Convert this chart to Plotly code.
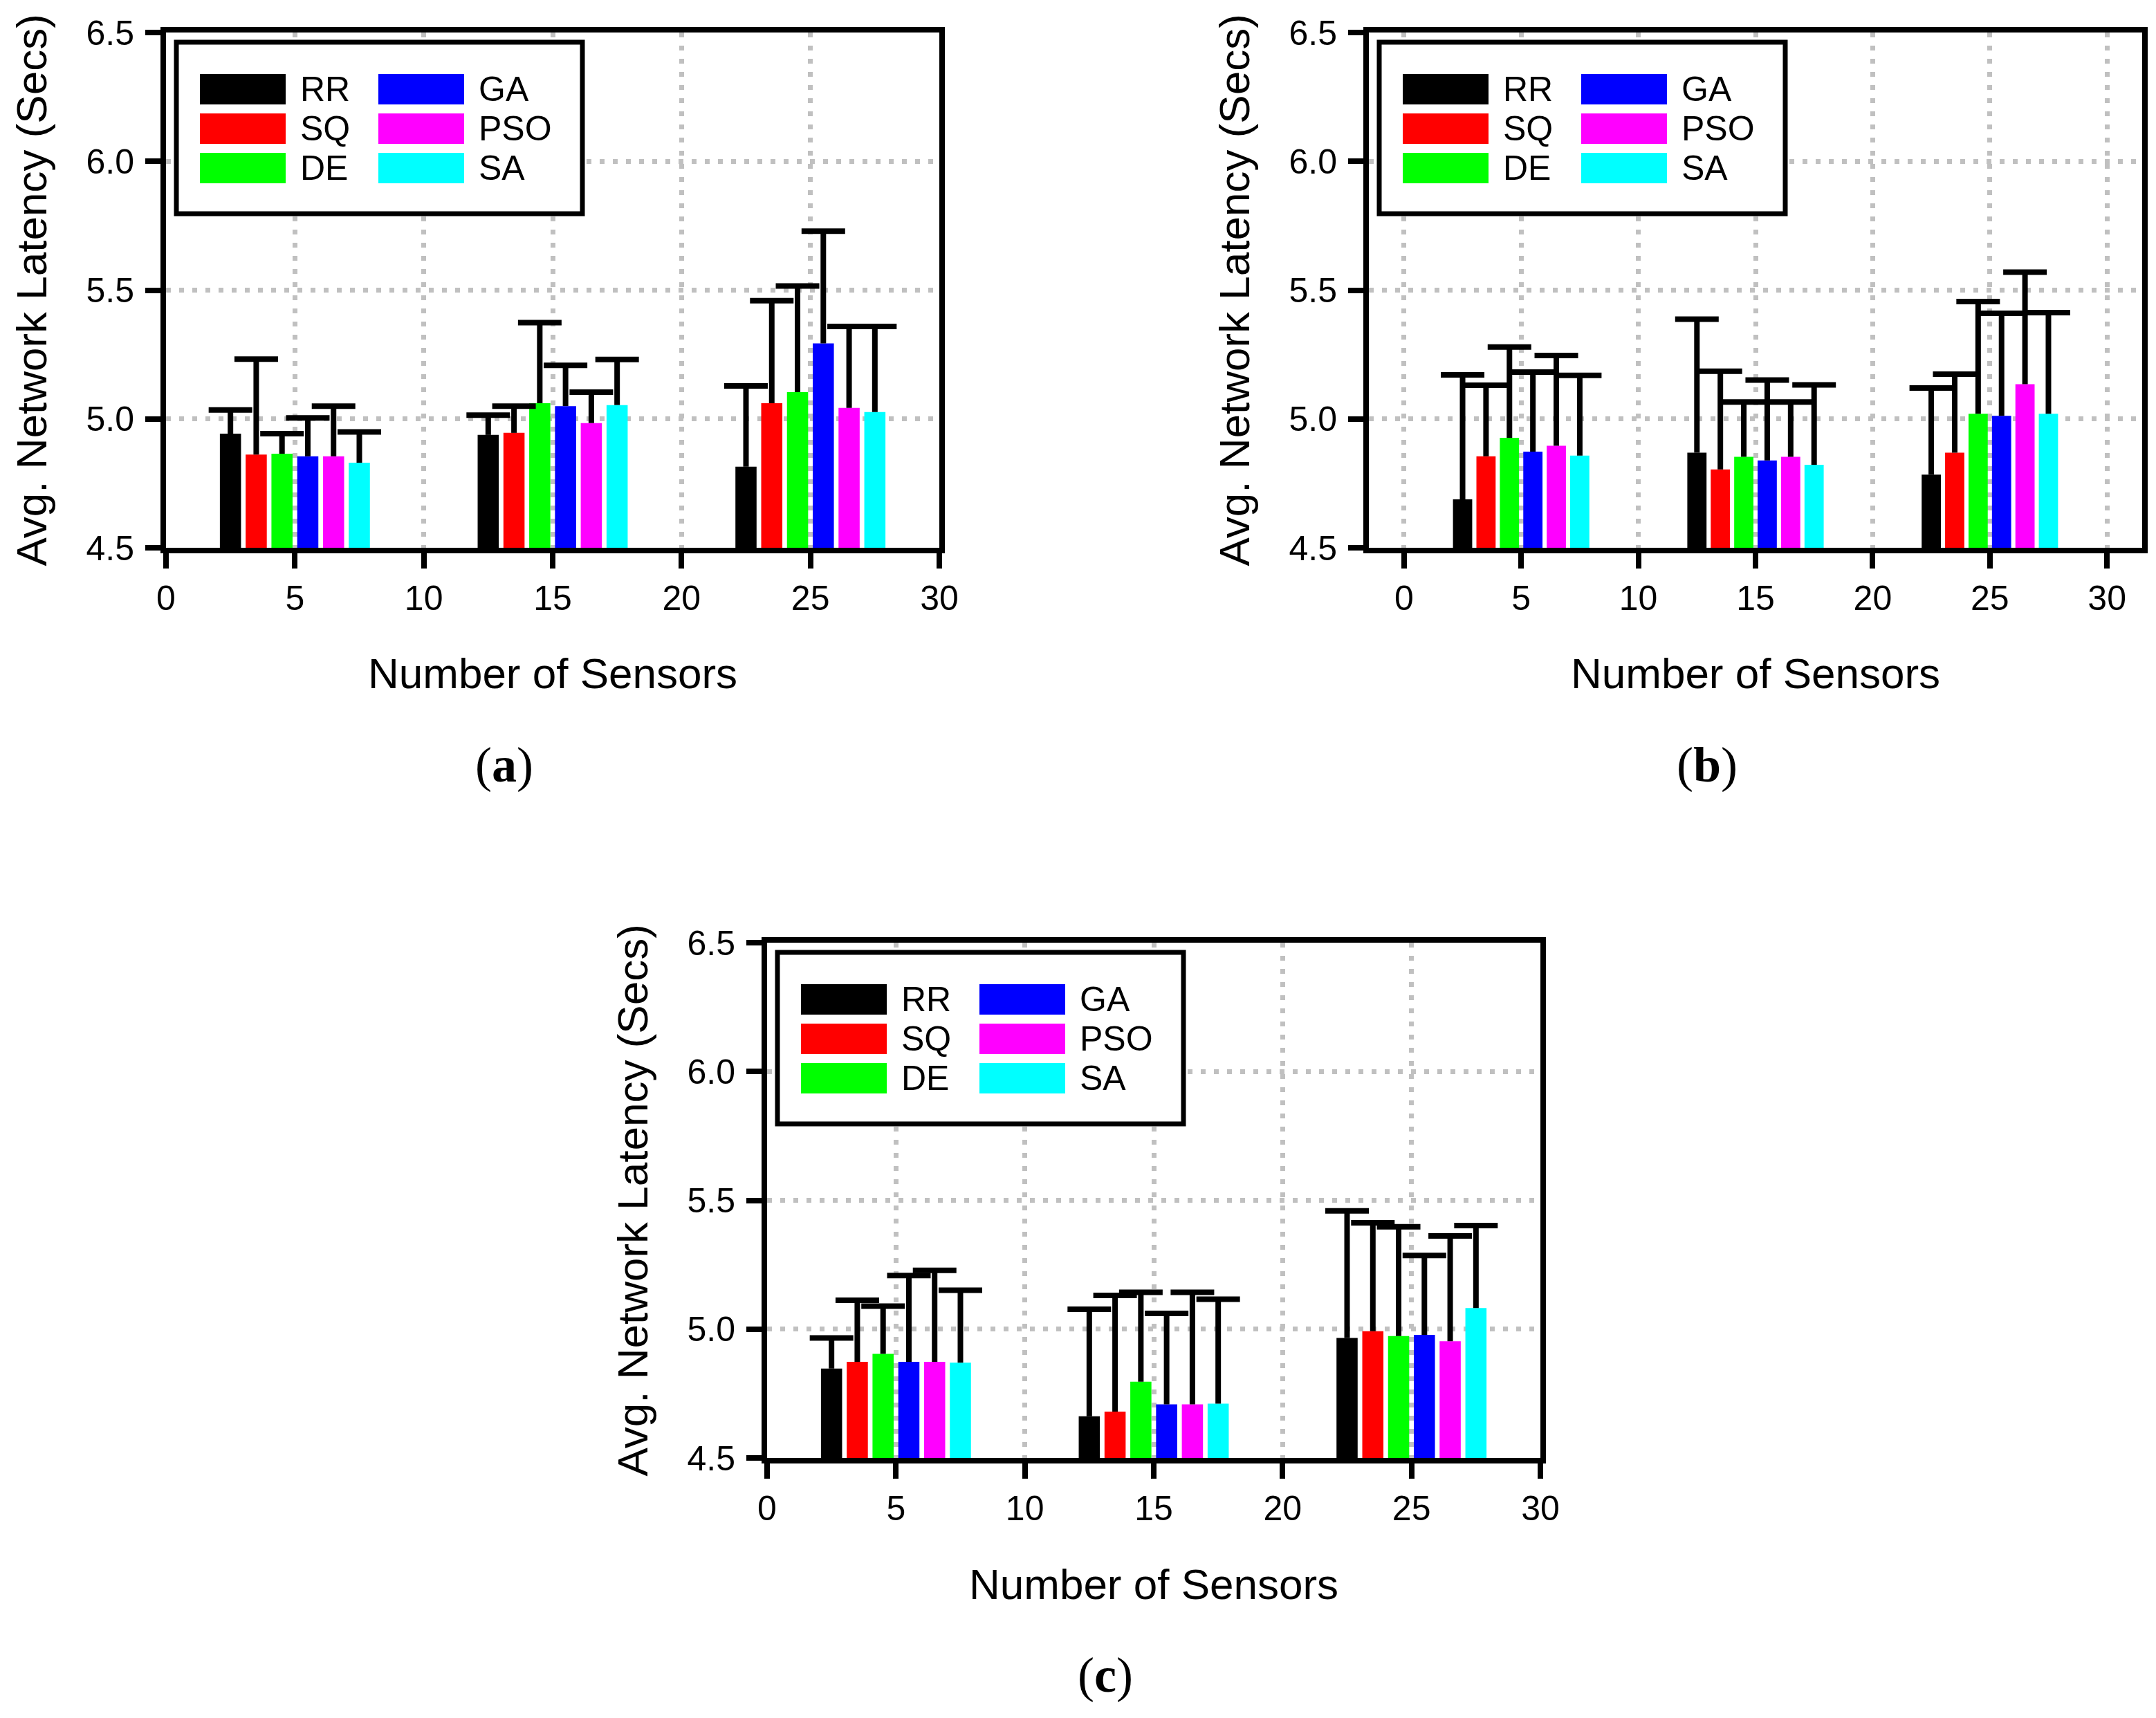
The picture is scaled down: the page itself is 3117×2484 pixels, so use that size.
import plotly.graph_objects as go

W, H = 3117, 2484

# ---------------- data ----------------
algorithms = ["RR", "SQ", "DE", "GA", "PSO", "SA"]
colors = ["#000000", "#ff0000", "#00ff00", "#0000ff", "#ff00ff", "#00ffff"]
sensors = [5, 15, 25]
x_ticks = [0, 5, 10, 15, 20, 25, 30]
y_ticks = [4.5, 5.0, 5.5, 6.0, 6.5]
panel_labels = ["a", "b", "c"]
x_title = "Number of Sensors"
y_title = "Avg. Network Latency (Secs)"

# mean latency per algorithm (rows) at 5, 15, 25 sensors
lat_a = [
    [4.943, 4.938, 4.815],
    [4.862, 4.946, 5.061],
    [4.865, 5.061, 5.104],
    [4.855, 5.050, 5.293],
    [4.855, 4.984, 5.043],
    [4.830, 5.054, 5.027],
]
# upper end of error bar
top_a = [
    [5.035, 5.015, 5.128],
    [5.232, 5.050, 5.459],
    [4.943, 5.374, 5.516],
    [5.004, 5.208, 5.729],
    [5.050, 5.104, 5.359],
    [4.950, 5.231, 5.359],
]
lat_b = [
    [4.688, 4.869, 4.784],
    [4.855, 4.804, 4.869],
    [4.927, 4.853, 5.020],
    [4.873, 4.839, 5.012],
    [4.896, 4.853, 5.135],
    [4.858, 4.822, 5.020],
]
top_b = [
    [5.171, 5.387, 5.120],
    [5.131, 5.185, 5.174],
    [5.279, 5.066, 5.456],
    [5.182, 5.151, 5.410],
    [5.246, 5.066, 5.570],
    [5.169, 5.132, 5.413],
]
lat_c = [
    [4.847, 4.662, 4.966],
    [4.873, 4.680, 4.992],
    [4.904, 4.796, 4.973],
    [4.873, 4.708, 4.978],
    [4.873, 4.708, 4.953],
    [4.870, 4.711, 5.082],
]
top_c = [
    [4.966, 5.077, 5.459],
    [5.112, 5.131, 5.413],
    [5.089, 5.143, 5.397],
    [5.208, 5.061, 5.286],
    [5.228, 5.143, 5.362],
    [5.151, 5.116, 5.402],
]
panels_lat = [lat_a, lat_b, lat_c]
panels_top = [top_a, top_b, top_c]

# ---------------- layout geometry (pixels) ----------------
boxes = [(240, 47, 1358, 792), (1979, 47, 3097, 792), (1109, 1363, 2227, 2108)]
xranges = [[0, 30], [-1.5, 31.5], [0, 30]]
slot = 1.0
bar_w = 0.82
OFF = 8  # default page body margin

FONT = "Liberation Sans, Arial, sans-serif"
SERIF = "Liberation Serif, Times New Roman, serif"


def px(x):
    return (x - OFF) / W


def py(y):
    return 1 - (y - OFF) / H


fig = go.Figure()
shapes = []
annotations = []

for p in range(3):
    ax = "" if p == 0 else str(p + 1)
    xref, yref = "x" + ax, "y" + ax
    lat, top = panels_lat[p], panels_top[p]
    for i, name in enumerate(algorithms):
        xs = [s + (i - 2.5) * slot for s in sensors]
        fig.add_trace(go.Bar(
            x=xs, y=lat[i], width=bar_w, name=name,
            marker=dict(color=colors[i], line=dict(width=0)),
            xaxis=xref, yaxis=yref, showlegend=False,
        ))
    for i, name in enumerate(algorithms):
        xs = [s + (i - 2.5) * slot for s in sensors]
        fig.add_trace(go.Scatter(
            x=xs, y=top[i], mode="markers",
            marker=dict(symbol="line-ew", size=45, color="black",
                        line=dict(width=8, color="black")),
            error_y=dict(type="data", symmetric=False,
                         array=[0] * len(sensors),
                         arrayminus=[t - v for t, v in zip(top[i], lat[i])],
                         width=0, thickness=8, color="black"),
            xaxis=xref, yaxis=yref, showlegend=False, hoverinfo="skip",
        ))

    l, t, r, b = boxes[p]
    common = dict(showline=True, mirror=True, linewidth=8, linecolor="black",
                  ticks="outside", ticklen=22, tickwidth=8, tickcolor="black",
                  showgrid=True, gridcolor="#c0c0c0", gridwidth=7,
                  griddash="7px,12px", zeroline=False, automargin=False,
                  tickfont=dict(family=FONT, size=50, color="black"))
    fig.layout["xaxis" + ax] = dict(
        domain=[px(l), px(r)], range=xranges[p], anchor=yref,
        tickvals=x_ticks, **common)
    fig.layout["yaxis" + ax] = dict(
        domain=[py(b), py(t)], range=[4.5, 6.5], anchor=xref,
        tickvals=y_ticks, tickformat=".1f", ticklabelstandoff=6, **common)

    # axis titles
    annotations.append(dict(
        x=px((l + r) / 2), y=py(b + 182), xref="paper", yref="paper",
        text=x_title, showarrow=False, xanchor="center", yanchor="middle",
        font=dict(family=FONT, size=62, color="black")))
    annotations.append(dict(
        x=px(l - 195), y=py((t + b) / 2), xref="paper", yref="paper",
        text=y_title, showarrow=False, textangle=-90,
        xanchor="center", yanchor="middle",
        font=dict(family=FONT, size=62, color="black")))
    # panel caption
    annotations.append(dict(
        x=px((l + r) / 2 - 70), y=py(b + 314), xref="paper", yref="paper",
        text="(<b>" + panel_labels[p] + "</b>)", showarrow=False,
        xanchor="center", yanchor="middle",
        font=dict(family=SERIF, size=72, color="black")))

    # custom legend
    shapes.append(dict(type="rect", xref="paper", yref="paper", layer="above",
                       x0=px(l + 15), x1=px(l + 602), y0=py(t + 14), y1=py(t + 262),
                       fillcolor="white", line=dict(color="black", width=7)))
    for i, name in enumerate(algorithms):
        col, row = divmod(i, 3)
        sx = l + 49 + col * 258
        cy = t + 82 + row * 57
        shapes.append(dict(type="rect", xref="paper", yref="paper", layer="above",
                           x0=px(sx), x1=px(sx + 124), y0=py(cy + 22), y1=py(cy - 22),
                           fillcolor=colors[i], line=dict(width=0)))
        annotations.append(dict(
            x=px(sx + 143), y=py(cy), xref="paper", yref="paper",
            text=name, showarrow=False, xanchor="left", yanchor="middle",
            font=dict(family=FONT, size=50, color="black")))

fig.update_layout(
    width=W, height=H, autosize=False,
    margin=dict(l=0, r=0, t=0, b=0, pad=0, autoexpand=False),
    paper_bgcolor="white", plot_bgcolor="white",
    barmode="overlay", showlegend=False,
    shapes=shapes, annotations=annotations,
)

fig.write_html("out.html")
